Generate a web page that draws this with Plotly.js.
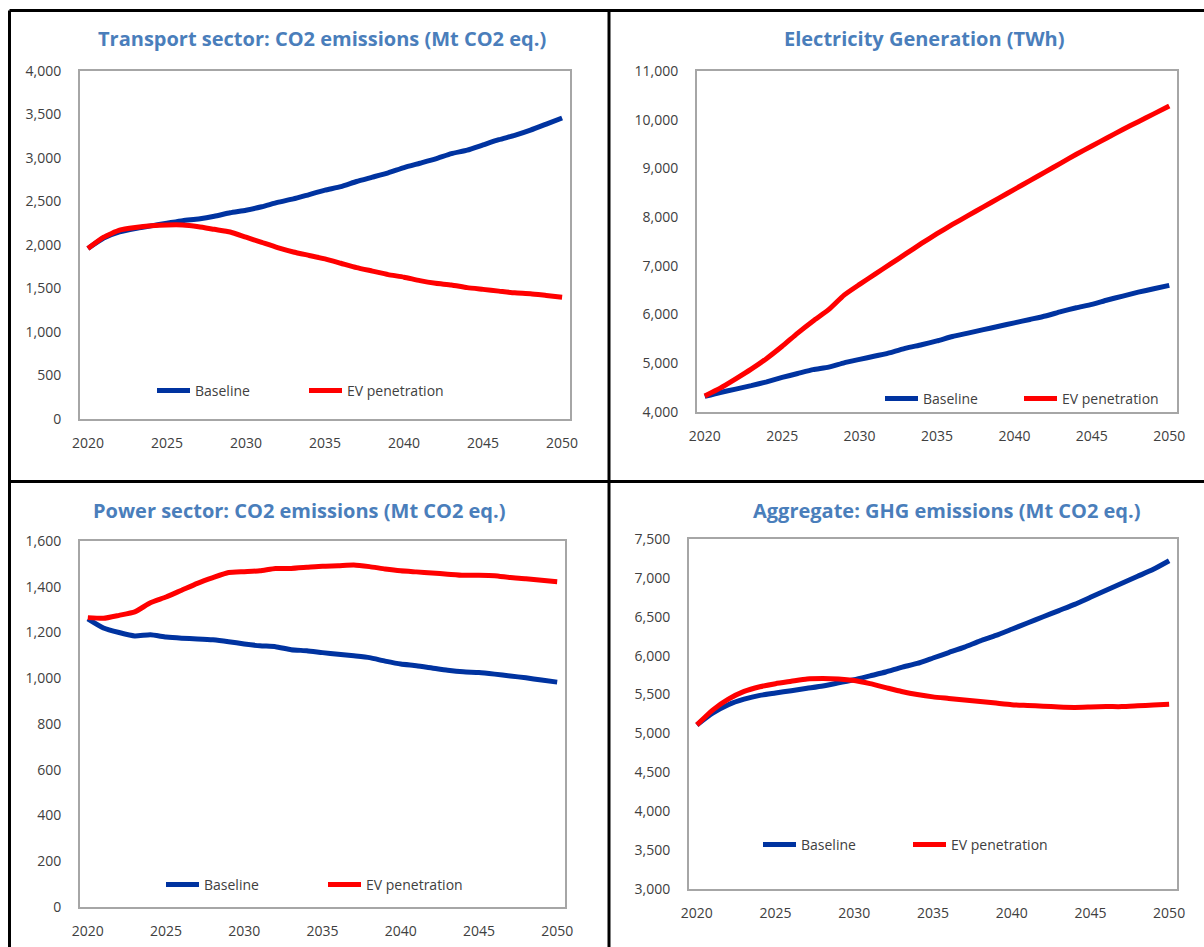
<!DOCTYPE html>
<html>
<head>
<meta charset="utf-8">
<script src="https://cdn.plot.ly/plotly-3.0.1.min.js"></script>
<style>html,body{margin:0;padding:0;background:#fff;}#chart{width:1204px;height:947px;}</style>
</head>
<body>
<div id="chart"></div>
<script>
var years = [];
for (var yr = 2020; yr <= 2050; yr++) years.push(yr);

var transportBaseline = [1960,2080,2150,2190,2220,2250,2280,2300,2330,2370,2400,2440,2490,2530,2580,2630,2670,2730,2780,2830,2890,2940,2990,3050,3090,3150,3210,3260,3320,3390,3460];
var transportEV = [1960,2090,2170,2200,2220,2230,2230,2210,2180,2150,2090,2030,1970,1920,1880,1840,1790,1740,1700,1660,1630,1590,1560,1540,1510,1490,1470,1450,1440,1420,1400];

var elecBaseline = [4320,4400,4470,4540,4620,4710,4790,4870,4920,5010,5080,5150,5220,5310,5380,5460,5550,5620,5690,5760,5830,5900,5970,6060,6140,6210,6300,6380,6460,6530,6600];
var elecEV = [4330,4490,4680,4880,5100,5350,5620,5870,6100,6400,6620,6830,7040,7250,7460,7660,7850,8030,8210,8390,8570,8750,8930,9110,9290,9460,9630,9800,9960,10120,10280];

var powerBaseline = [1260,1220,1200,1185,1190,1180,1175,1172,1168,1160,1150,1142,1138,1125,1120,1112,1105,1098,1090,1075,1062,1055,1045,1035,1028,1025,1018,1010,1002,992,983];
var powerEV = [1265,1262,1275,1290,1330,1355,1385,1415,1440,1462,1466,1470,1480,1480,1485,1490,1492,1495,1488,1478,1470,1465,1460,1455,1450,1450,1448,1440,1435,1428,1422];

var ghgBaseline = [5110,5260,5370,5440,5490,5520,5550,5580,5610,5650,5690,5740,5790,5850,5900,5970,6040,6110,6190,6260,6340,6420,6500,6580,6660,6750,6840,6930,7020,7110,7220];
var ghgEV = [5110,5300,5440,5540,5600,5640,5670,5700,5705,5700,5680,5640,5590,5540,5500,5470,5450,5430,5410,5390,5370,5360,5350,5340,5335,5340,5345,5345,5355,5365,5375];

var titles = ["Transport sector: CO2 emissions (Mt CO2 eq.)","Electricity Generation (TWh)","Power sector: CO2 emissions (Mt CO2 eq.)","Aggregate: GHG emissions (Mt CO2 eq.)"];
var seriesNames = ["Baseline","EV penetration"];
var xTicks = [2020,2025,2030,2035,2040,2045,2050];

var W = 1204, H = 947;
function fx(p){ return p / W; }
function fy(p){ return 1 - p / H; }

var BLUE = '#0033a0', RED = '#ff0000';
var FONT = 'Open Sans, Noto Sans, sans-serif';

var panels = [
  {b: transportBaseline, e: transportEV, xd:[80,570], yd:[71,419], yr:[0,4000], dt:500, leg:[152,391], ew:104, tx:322, ty:38},
  {b: elecBaseline, e: elecEV, xd:[697,1177], yd:[71,412], yr:[4000,11000], dt:1000, leg:[880,399], ew:91, tx:924, ty:38},
  {b: powerBaseline, e: powerEV, xd:[80,565], yd:[541,907], yr:[0,1600], dt:200, leg:[161,885], ew:114, tx:299, ty:510},
  {b: ghgBaseline, e: ghgEV, xd:[689,1177], yd:[539,889], yr:[3000,7500], dt:500, leg:[758,845], ew:102, tx:947, ty:510}
];

var data = [];
var layout = {
  width: W, height: H,
  margin: {l:0, r:0, t:0, b:0},
  paper_bgcolor: '#ffffff',
  plot_bgcolor: '#ffffff',
  font: {family: FONT, size: 14, color: '#404040'},
  showlegend: true,
  annotations: [],
  shapes: []
};

panels.forEach(function(p, i){
  var n = i + 1;
  var xa = 'x' + (n === 1 ? '' : n), ya = 'y' + (n === 1 ? '' : n);
  var legName = 'legend' + (n === 1 ? '' : n);
  data.push({x: years, y: p.b, xaxis: xa, yaxis: ya, type: 'scatter', mode: 'lines', name: seriesNames[0],
    line: {color: BLUE, width: 5, shape: 'spline', smoothing: 0.5}, legend: legName, hoverinfo: 'x+y'});
  data.push({x: years, y: p.e, xaxis: xa, yaxis: ya, type: 'scatter', mode: 'lines', name: seriesNames[1],
    line: {color: RED, width: 5, shape: 'spline', smoothing: 0.5}, legend: legName, hoverinfo: 'x+y'});
  var xk = 'xaxis' + (n === 1 ? '' : n), yk = 'yaxis' + (n === 1 ? '' : n);
  layout[xk] = {
    domain: [fx(p.xd[0]), fx(p.xd[1])], anchor: ya,
    range: [2019.5, 2050.5], tickvals: xTicks, ticktext: xTicks.map(String),
    showgrid: false, zeroline: false, showline: true, mirror: true,
    linecolor: '#a6a6a6', linewidth: 2,
    ticks: 'outside', ticklen: 10, tickcolor: 'rgba(0,0,0,0)',
    tickfont: {family: FONT, size: 14, color: '#404040'}, fixedrange: true
  };
  var yt = [];
  for (var v = p.yr[0]; v <= p.yr[1]; v += p.dt) yt.push(v);
  layout[yk] = {
    domain: [fy(p.yd[1]), fy(p.yd[0])], anchor: xa,
    range: p.yr, tickvals: yt, ticktext: yt.map(function(v){ return v.toLocaleString('en-US'); }),
    showgrid: false, zeroline: false, showline: true, mirror: true,
    linecolor: '#a6a6a6', linewidth: 2,
    ticks: 'outside', ticklen: 14, tickcolor: 'rgba(0,0,0,0)',
    tickfont: {family: FONT, size: 14, color: '#404040'}, fixedrange: true
  };
  layout[legName] = {
    orientation: 'h', x: fx(p.leg[0]), y: fy(p.leg[1]), xanchor: 'left', yanchor: 'middle',
    xref: 'paper', yref: 'paper', bgcolor: 'rgba(0,0,0,0)',
    font: {family: FONT, size: 14, color: '#404040'},
    entrywidth: p.ew, entrywidthmode: 'pixels', itemwidth: 33, tracegroupgap: 0
  };
  layout.annotations.push({
    text: '<b>' + titles[i] + '</b>', xref: 'paper', yref: 'paper',
    x: fx(p.tx), y: fy(p.ty), xanchor: 'center', yanchor: 'middle', showarrow: false,
    font: {family: FONT, size: 20, color: '#4a7ebb'}
  });
});

// panel frame lines
var frame = [
  [9.5, 10.5, W, 10.5],
  [9.5, 10.5, 9.5, H],
  [609, 10.5, 609, H],
  [9.5, 481.5, W, 481.5]
];
frame.forEach(function(f){
  layout.shapes.push({type: 'line', xref: 'paper', yref: 'paper',
    x0: fx(f[0]), y0: fy(f[1]), x1: fx(f[2]), y1: fy(f[3]),
    line: {color: '#000000', width: 3}, layer: 'above'});
});

Plotly.newPlot('chart', data, layout, {displayModeBar: false, staticPlot: true});
</script>
</body>
</html>
